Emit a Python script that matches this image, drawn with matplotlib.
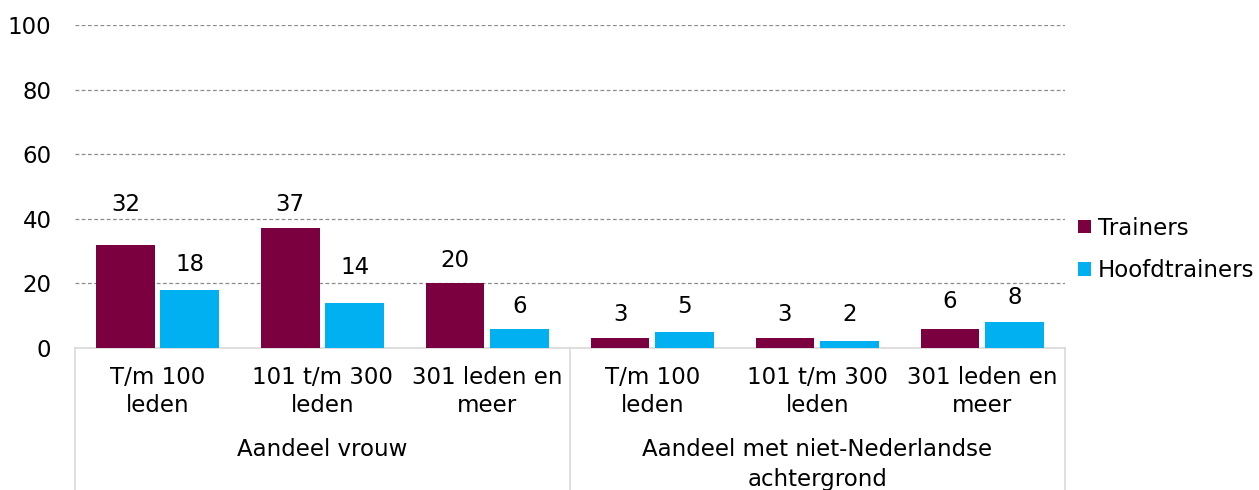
import matplotlib.pyplot as plt
import matplotlib.transforms as mtransforms
import numpy as np

# Data
Sub_Labels = ["T/m 100\nleden", "101 t/m 300\nleden", "301 leden en\nmeer",
              "T/m 100\nleden", "101 t/m 300\nleden", "301 leden en\nmeer"]
Group_Labels = ["Aandeel vrouw", "Aandeel met niet-Nederlandse\nachtergrond"]
Trainers = [32, 37, 20, 3, 3, 6]
Hoofdtrainers = [18, 14, 6, 5, 2, 8]

# Styling
Colour_Trainers = "#7B003F"
Colour_Hoofd = "#00B0F0"
FS = 16.5
Lift_Trainers = [12.3, 7.3, 7.2, 7.2, 7.2, 8.5]   # label height above bar (data units)
Lift_Hoofd = [7.7, 11.0, 6.7, 7.7, 8.2, 7.5]

fig = plt.figure(figsize=(12.59, 4.90), dpi=100)
ax = fig.add_axes([0.0596, 0.290, 0.786, 0.659])

x = np.arange(len(Sub_Labels))
w = 0.355
off = 0.195
ax.bar(x - off, Trainers, w, color=Colour_Trainers, label="Trainers", zorder=3)
ax.bar(x + off, Hoofdtrainers, w, color=Colour_Hoofd, label="Hoofdtrainers", zorder=3)

for xi, v, l in zip(x - off, Trainers, Lift_Trainers):
    ax.text(xi, v + l, str(v), ha="center", va="center", fontsize=FS)
for xi, v, l in zip(x + off, Hoofdtrainers, Lift_Hoofd):
    ax.text(xi, v + l, str(v), ha="center", va="center", fontsize=FS)

ax.set_xlim(-0.5, len(Sub_Labels) - 0.5)
ax.set_ylim(0, 100)
ax.set_yticks(range(0, 101, 20))
ax.yaxis.grid(True, linestyle=(0, (3, 2)), color="#8c8c8c", linewidth=0.9, zorder=0)
ax.set_axisbelow(True)
ax.tick_params(axis="y", length=0, labelsize=FS, pad=17)
ax.set_xticks(x)
ax.set_xticklabels(Sub_Labels, fontsize=FS, linespacing=1.3)
ax.tick_params(axis="x", length=0, pad=13)
for s in ["top", "right", "left"]:
    ax.spines[s].set_visible(False)
ax.spines["bottom"].set_color("#d9d9d9")
ax.spines["bottom"].set_linewidth(1.2)

# Group labels and separators
trans = mtransforms.blended_transform_factory(ax.transData, ax.transAxes)
for gi, g in enumerate(Group_Labels):
    ax.text(gi * 3 + 1, -0.28, g, transform=trans, ha="center", va="top",
            fontsize=FS, linespacing=1.35, clip_on=False)
for xs in [-0.5, 2.5, 5.5]:
    ax.plot([xs, xs], [0, -0.45], transform=trans, color="#d9d9d9", linewidth=1.2, clip_on=False)

ax.legend(loc="center left", bbox_to_anchor=(0.993, 0.305), frameon=False, fontsize=FS,
          handlelength=0.55, handleheight=0.55, handletextpad=0.3, labelspacing=0.85)

plt.savefig("out.png", dpi=100)
